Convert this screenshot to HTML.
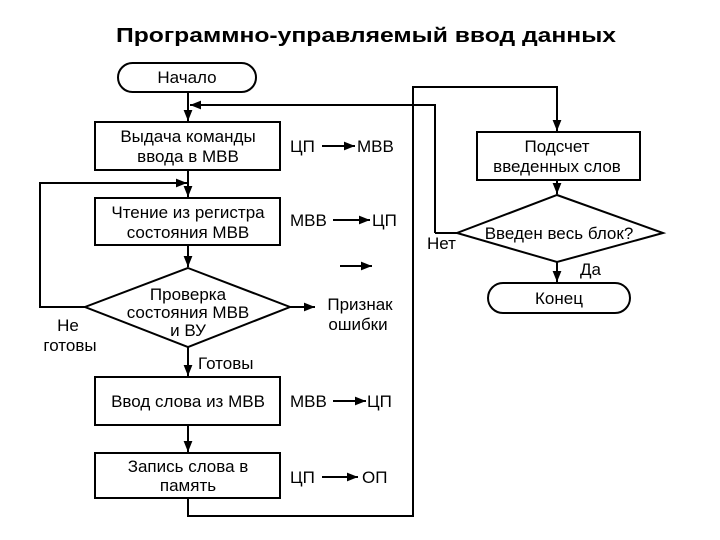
<!DOCTYPE html>
<html><head><meta charset="utf-8"><style>
html,body{margin:0;padding:0;background:#fff;}
svg{display:block;}
text{font-family:"Liberation Sans",Arial,sans-serif;fill:#000;}
</style></head><body>
<svg width="720" height="540" viewBox="0 0 720 540" xmlns="http://www.w3.org/2000/svg">
<defs>
<marker id="a" viewBox="0 0 10 10" refX="10" refY="5" markerWidth="11" markerHeight="11" markerUnits="userSpaceOnUse" orient="auto"><path d="M0,1 L10,5 L0,9 z" fill="#000"/></marker>
</defs>
<text x="366" y="42" font-size="20" font-weight="bold" text-anchor="middle" textLength="500" lengthAdjust="spacingAndGlyphs">Программно-управляемый ввод  данных</text>
<g fill="none" stroke="#000" stroke-width="2">
<rect x="118" y="63" width="138" height="29" rx="14.5"/>
<rect x="95" y="122" width="185" height="48"/>
<rect x="95" y="198" width="185" height="47"/>
<polygon points="188,268 290,307 188,347 85,307"/>
<rect x="95" y="377" width="185" height="48"/>
<rect x="95" y="453" width="185" height="45"/>
<rect x="477" y="132" width="163" height="48"/>
<polygon points="557,195 663,233 557,262 457,233"/>
<rect x="488" y="283" width="142" height="30" rx="15"/>
<line x1="188" y1="92" x2="188" y2="121" marker-end="url(#a)"/>
<polyline points="435,233 435,105 190,105" marker-end="url(#a)"/>
<line x1="188" y1="170" x2="188" y2="197" marker-end="url(#a)"/>
<polyline points="85,307 40,307 40,183 187,183" marker-end="url(#a)"/>
<line x1="188" y1="245" x2="188" y2="267" marker-end="url(#a)"/>
<line x1="290" y1="307" x2="315" y2="307" marker-end="url(#a)"/>
<line x1="188" y1="347" x2="188" y2="376" marker-end="url(#a)"/>
<line x1="188" y1="425" x2="188" y2="452" marker-end="url(#a)"/>
<polyline points="188,498 188,516 413,516 413,87 557,87 557,131" marker-end="url(#a)"/>
<line x1="557" y1="180" x2="557" y2="194" marker-end="url(#a)"/>
<polyline points="457,233 435,233"/>
<line x1="557" y1="262" x2="557" y2="282" marker-end="url(#a)"/>
<line x1="322" y1="146" x2="355" y2="146" marker-end="url(#a)"/>
<line x1="333" y1="220" x2="370" y2="220" marker-end="url(#a)"/>
<line x1="340" y1="266" x2="372" y2="266" marker-end="url(#a)"/>
<line x1="333" y1="401" x2="366" y2="401" marker-end="url(#a)"/>
<line x1="322" y1="477" x2="358" y2="477" marker-end="url(#a)"/>
</g>
<g font-size="17" text-anchor="middle">
<text x="187" y="83">Начало</text>
<text x="188" y="142">Выдача команды</text>
<text x="188" y="162">ввода в МВВ</text>
<text x="188" y="218">Чтение из регистра</text>
<text x="188" y="238">состояния  МВВ</text>
<text x="188" y="300">Проверка</text>
<text x="188" y="318">состояния МВВ</text>
<text x="188" y="336">и ВУ</text>
<text x="360" y="310">Признак</text>
<text x="358" y="330">ошибки</text>
<text x="68" y="331">Не</text>
<text x="70" y="351">готовы</text>
<text x="188" y="407">Ввод слова из МВВ</text>
<text x="188" y="472">Запись слова в</text>
<text x="188" y="491">память</text>
<text x="557" y="152">Подсчет</text>
<text x="557" y="172">введенных слов</text>
<text x="559" y="239">Введен весь блок?</text>
<text x="559" y="304">Конец</text>
</g>
<g font-size="17">
<text x="290" y="152">ЦП</text>
<text x="357" y="152">МВВ</text>
<text x="290" y="226">МВВ</text>
<text x="372" y="226">ЦП</text>
<text x="290" y="407">МВВ</text>
<text x="367" y="407">ЦП</text>
<text x="290" y="483">ЦП</text>
<text x="362" y="483">ОП</text>
<text x="198" y="369">Готовы</text>
<text x="427" y="249">Нет</text>
<text x="580" y="275">Да</text>
</g>
</svg>
</body></html>
